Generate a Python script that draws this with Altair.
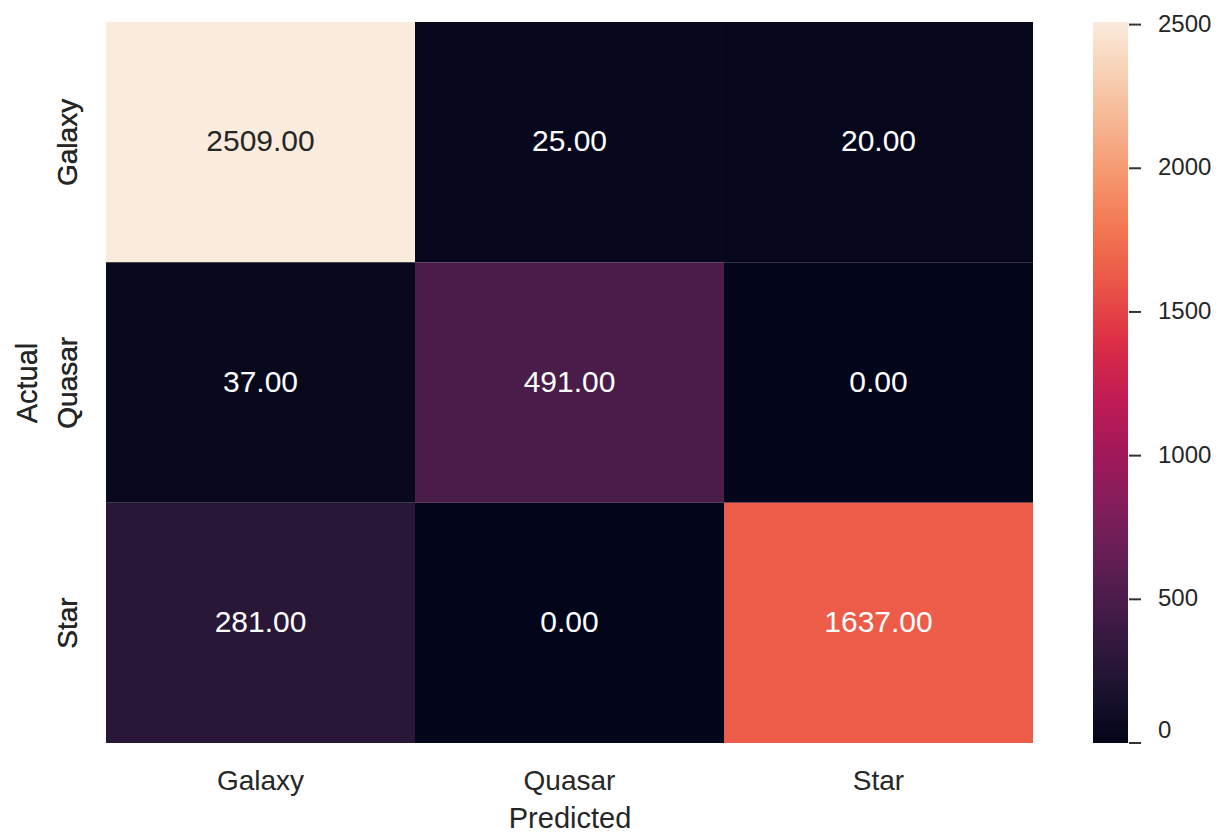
import altair as alt
import pandas as pd

# Confusion matrix of the classifier (rows = actual, columns = predicted)
classes = ["Galaxy", "Quasar", "Star"]
row_galaxy = [2509, 25, 20]
row_quasar = [37, 491, 0]
row_star = [281, 0, 1637]
colorbar_ticks = [0, 500, 1000, 1500, 2000, 2500]

rows = [row_galaxy, row_quasar, row_star]
cells = pd.DataFrame(
    [
        {"Actual": a, "Predicted": p, "count": rows[i][j]}
        for i, a in enumerate(classes)
        for j, p in enumerate(classes)
    ]
)
vmax = max(max(r) for r in rows)

# "rocket" colour map, as evenly spaced stops from 0 to the largest count
rocket = ["#03051a", "#35193e", "#701f57", "#ad1759",
          "#e13342", "#f37651", "#f6b48f", "#faebdd"]
stops = [vmax * i / (len(rocket) - 1) for i in range(len(rocket))]

TEXT = "#262626"
W, H = 927, 721
PAD_L, PAD_T = 106, 22
PAD_R, PAD_B = 1222 - PAD_L - W, 832 - PAD_T - H

x_enc = alt.X(
    "Predicted:N", sort=classes, title="Predicted",
    scale=alt.Scale(paddingInner=0, paddingOuter=0),
    axis=alt.Axis(orient="bottom", labelAngle=0, labelFontSize=28, labelPadding=24,
                  ticks=False, domain=False, titleFontSize=29, titlePadding=9),
)
y_enc = alt.Y(
    "Actual:N", sort=classes, title="Actual",
    scale=alt.Scale(paddingInner=0, paddingOuter=0),
    axis=alt.Axis(orient="left", labelAngle=270, labelFontSize=28, labelPadding=24,
                  ticks=False, domain=False, titleFontSize=29, titlePadding=12),
)

base = alt.Chart(cells).encode(x=x_enc, y=y_enc)

heat = base.mark_rect(strokeWidth=0).encode(
    color=alt.Color(
        "count:Q",
        scale=alt.Scale(domain=stops, range=rocket, clamp=True),
        legend=alt.Legend(
            title=None, orient="right", offset=60, padding=0,
            gradientLength=H, gradientThickness=35, gradientStrokeWidth=0,
            labelFontSize=24, labelOffset=30, labelColor=TEXT,
            labelAlign="left", labelBaseline="middle", format="d",
            values=colorbar_ticks,
        ),
    ),
)

labels = base.mark_text(fontSize=30).encode(
    text=alt.Text("count:Q", format=".2f"),
    color=alt.condition(alt.datum["count"] > 2000, alt.value(TEXT), alt.value("#ffffff")),
)

# small tick marks beside the colour bar
tick_marks = alt.Chart(pd.DataFrame({"tick": colorbar_ticks})).mark_rule(
    color="#333333", strokeWidth=2
).encode(
    x=alt.value(W + 96), x2=alt.value(W + 108),
    y=alt.Y("tick:Q", scale=alt.Scale(domain=[0, vmax]), axis=None),
)

chart = (
    alt.layer(heat, labels, tick_marks)
    .resolve_scale(y="independent")
    .properties(
        width=W, height=H,
        autosize=alt.AutoSizeParams(type="none"),
        padding={"left": PAD_L, "top": PAD_T, "right": PAD_R, "bottom": PAD_B},
        background="white",
    )
    .configure(font="Liberation Sans")
    .configure_axis(labelColor=TEXT, titleColor=TEXT, titleFontWeight="normal", grid=False)
    .configure_view(stroke=None)
)

chart.save("out.html", embed_options={"renderer": "svg", "actions": False})
